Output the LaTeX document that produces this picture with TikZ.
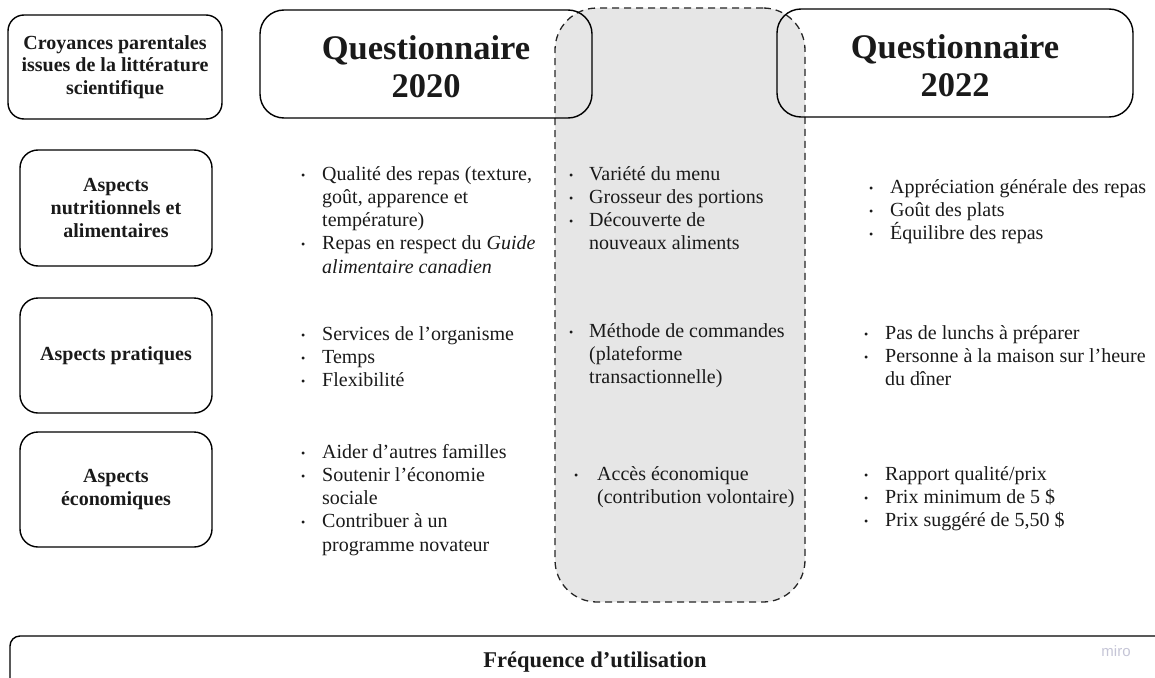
\documentclass[tikz,border=0pt]{standalone}
\usepackage{fontspec}
\setmainfont{Liberation Serif}
\newfontfamily\mirofont{Liberation Sans}
\definecolor{txt}{HTML}{1A1A1A}
\definecolor{greyfill}{HTML}{E6E6E6}
\definecolor{mirogrey}{HTML}{C5C5D6}
\newlength\bulw
\newcommand\smallbul{\raisebox{1pt}{\fontsize{12}{12}\selectfont •}}
\newcommand\bitem[1]{\par\hangindent=\bulw\hangafter=1\noindent\makebox[\bulw][l]{\smallbul}#1}
\newcommand\nl{\newline}
\newcommand\blistbox[3]{\begin{minipage}[t]{#1}\setlength\bulw{#2}\fontsize{20}{23.3}\selectfont\parindent=0pt\rightskip=0pt plus 1fil\relax #3\end{minipage}}
\tikzset{
  lbox/.style={draw=black, line width=1.4pt, rounded corners=18pt, minimum width=192pt, minimum height=115pt, align=center, inner sep=0pt, text=txt, font=\fontsize{20}{22.7}\selectfont\bfseries},
  tbox/.style={draw=black, line width=1.4pt, rounded corners=24pt, minimum height=108pt, inner sep=0pt},
  ttext/.style={align=center, inner sep=0pt, text=txt, font=\fontsize{34.5}{38}\selectfont\bfseries},
  greyzone/.style={draw=black!85, fill=greyfill, line width=1.3pt, dash pattern=on 7pt off 5pt, rounded corners=42pt, minimum width=250pt, minimum height=594pt, inner sep=0pt},
  blist/.style={anchor=base west, inner sep=0pt, text=txt},
}
\begin{document}
\begin{tikzpicture}[x=1pt, y=-1pt]
\useasboundingbox (0,0) rectangle (1155,677);
\clip (0,0) rectangle (1155,677);
% grey dashed zone
\node[greyzone] (zone) at (680,305) {};
% header boxes
\node[lbox, minimum width=214pt, minimum height=104pt, rounded corners=16pt] (croy) at (115,67) {Croyances parentales\\issues de la litt\'erature\\scientifique};
\node[tbox, minimum width=332pt] (q2020) at (426,64) {};
\node[ttext] (q2020t) at (426,66.5) {Questionnaire\\2020};
\node[tbox, minimum width=356pt] (q2022) at (955,63) {};
\node[ttext] (q2022t) at (955,65.5) {Questionnaire\\2022};
% row labels
\node[lbox, minimum height=116pt] (nutri) at (116,208) {Aspects\\nutritionnels et\\alimentaires};
\node[lbox] (prat) at (116,355.5) {Aspects pratiques};
\node[lbox] (eco) at (116,489.5) {Aspects\\\'economiques};
% column 1
\node[blist] (c1a) at (301,180) {\blistbox{250pt}{21pt}{%
  \bitem{Qualit\'e des repas (texture,\nl go\^ut, apparence et\nl temp\'erature)}%
  \bitem{Repas en respect du \textit{Guide}\nl \textit{alimentaire canadien}}}};
\node[blist] (c1b) at (301,340) {\blistbox{250pt}{21pt}{%
  \bitem{Services de l’organisme}\bitem{Temps}\bitem{Flexibilit\'e}}};
\node[blist] (c1c) at (301,458) {\blistbox{250pt}{21pt}{%
  \bitem{Aider d’autres familles}\bitem{Soutenir l’\'economie\nl sociale}\bitem{Contribuer \`a un\nl programme novateur}}};
% column 2 (grey zone)
\node[blist] (c2a) at (569,180) {\blistbox{230pt}{20pt}{%
  \bitem{Vari\'et\'e du menu}\bitem{Grosseur des portions}\bitem{D\'ecouverte de\nl nouveaux aliments}}};
\node[blist] (c2b) at (569,337) {\blistbox{230pt}{20pt}{%
  \bitem{M\'ethode de commandes\nl (plateforme\nl transactionnelle)}}};
\node[blist] (c2c) at (574,480) {\blistbox{230pt}{23pt}{%
  \bitem{Acc\`es \'economique\nl (contribution volontaire)}}};
% column 3
\node[blist] (c3a) at (869,193) {\blistbox{285pt}{21pt}{%
  \bitem{Appr\'eciation g\'en\'erale des repas}\bitem{Go\^ut des plats}\bitem{\'Equilibre des repas}}};
\node[blist] (c3b) at (864,339) {\blistbox{285pt}{21pt}{%
  \bitem{Pas de lunchs \`a pr\'eparer}\bitem{Personne \`a la maison sur l’heure\nl du d\^iner}}};
\node[blist] (c3c) at (864,480) {\blistbox{285pt}{21pt}{%
  \bitem{Rapport qualit\'e/prix}\bitem{Prix minimum de 5 \$}\bitem{Prix sugg\'er\'e de 5,50 \$}}};
% bottom frame
\node[draw=black, line width=1.4pt, rounded corners=10pt, minimum width=1170pt, minimum height=90pt, inner sep=0pt] (freq) at (595,681) {};
\node[text=txt, font=\fontsize{22.5}{26}\selectfont\bfseries, inner sep=0pt, anchor=base] (freqlabel) at (595,667) {Fr\'equence d’utilisation};
\node[text=mirogrey, font=\mirofont\fontsize{15}{15}\selectfont, inner sep=0pt] (miro) at (1116,651) {miro};
\end{tikzpicture}
\end{document}
